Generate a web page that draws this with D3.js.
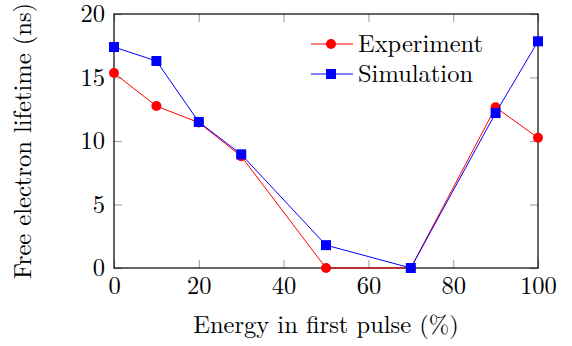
<!DOCTYPE html>
<html>
<head>
<meta charset="utf-8">
<script src="https://cdn.jsdelivr.net/npm/d3@7"></script>
</head>
<body style="margin:0; background:#fff">
<div id="chart"></div>
<script>
var svgWidth = 572;
var svgHeight = 346;

var margin = { top: 14, right: 34, bottom: 78, left: 114 };
var width = svgWidth - margin.left - margin.right;
var height = svgHeight - margin.top - margin.bottom;

// data
var energy = [0, 10, 20, 30, 50, 70, 90, 100];
var experiment = [15.35, 12.75, 11.45, 8.8, 0, 0, 12.65, 10.25];
var simulation = [17.4, 16.3, 11.5, 8.95, 1.8, 0, 12.2, 17.85];
var xTicks = [0, 20, 40, 60, 80, 100];
var yTicks = [0, 5, 10, 15, 20];
var seriesNames = ["Experiment", "Simulation"];

var fontFamily = "'Latin Modern Roman', 'Liberation Serif', serif";
var fontSize = 24.5;

var svg = d3.select("#chart")
    .append("svg")
    .attr("width", svgWidth)
    .attr("height", svgHeight);

var chartGroup = svg.append("g")
    .attr("transform", `translate(${margin.left}, ${margin.top})`);

var xScale = d3.scaleLinear().domain([0, 100]).range([0, width]);
var yScale = d3.scaleLinear().domain([0, 20]).range([height, 0]);

// ticks, inside on all four sides
var tickLen = 8;
var tickColor = "#a8a8a8";

chartGroup.append("g")
    .attr("transform", `translate(0, ${height})`)
    .call(d3.axisBottom(xScale).tickValues(xTicks).tickSizeInner(-tickLen).tickSizeOuter(0).tickPadding(9))
    .call(g => g.select(".domain").remove());

chartGroup.append("g")
    .call(d3.axisTop(xScale).tickValues(xTicks).tickSizeInner(-tickLen).tickSizeOuter(0).tickFormat(""))
    .call(g => g.select(".domain").remove());

chartGroup.append("g")
    .call(d3.axisLeft(yScale).tickValues(yTicks).tickSizeInner(-tickLen).tickSizeOuter(0).tickPadding(9))
    .call(g => g.select(".domain").remove());

chartGroup.append("g")
    .attr("transform", `translate(${width}, 0)`)
    .call(d3.axisRight(yScale).tickValues(yTicks).tickSizeInner(-tickLen).tickSizeOuter(0).tickFormat(""))
    .call(g => g.select(".domain").remove());

chartGroup.selectAll(".tick line")
    .attr("stroke", tickColor)
    .attr("stroke-width", 1.2);

chartGroup.selectAll(".tick text")
    .style("font-family", fontFamily)
    .style("font-size", fontSize + "px")
    .attr("fill", "#000");

// frame
chartGroup.append("rect")
    .attr("x", 0)
    .attr("y", 0)
    .attr("width", width)
    .attr("height", height)
    .attr("fill", "none")
    .attr("stroke", "#000")
    .attr("stroke-width", 1.2);

// lines and markers
var line = d3.line()
    .x(d => xScale(d[0]))
    .y(d => yScale(d[1]));

var expData = energy.map((e, i) => [e, experiment[i]]);
var simData = energy.map((e, i) => [e, simulation[i]]);

chartGroup.append("path")
    .datum(expData)
    .attr("d", line)
    .attr("fill", "none")
    .attr("stroke", "#ff0000")
    .attr("stroke-width", 1);

chartGroup.selectAll(".exp")
    .data(expData)
    .enter()
    .append("circle")
    .attr("cx", d => xScale(d[0]))
    .attr("cy", d => yScale(d[1]))
    .attr("r", 5)
    .attr("fill", "#ff0000");

var sq = 10;
chartGroup.append("path")
    .datum(simData)
    .attr("d", line)
    .attr("fill", "none")
    .attr("stroke", "#0000ff")
    .attr("stroke-width", 1);

chartGroup.selectAll(".sim")
    .data(simData)
    .enter()
    .append("rect")
    .attr("x", d => xScale(d[0]) - sq / 2)
    .attr("y", d => yScale(d[1]) - sq / 2)
    .attr("width", sq)
    .attr("height", sq)
    .attr("fill", "#0000ff");

// legend
var legend = svg.append("g");
var legendRows = [44, 74];

legend.append("line")
    .attr("x1", 311).attr("x2", 353)
    .attr("y1", legendRows[0]).attr("y2", legendRows[0])
    .attr("stroke", "#ff0000").attr("stroke-width", 1);
legend.append("circle")
    .attr("cx", 331).attr("cy", legendRows[0]).attr("r", 5)
    .attr("fill", "#ff0000");
legend.append("line")
    .attr("x1", 311).attr("x2", 353)
    .attr("y1", legendRows[1]).attr("y2", legendRows[1])
    .attr("stroke", "#0000ff").attr("stroke-width", 1);
legend.append("rect")
    .attr("x", 331 - sq / 2).attr("y", legendRows[1] - sq / 2)
    .attr("width", sq).attr("height", sq)
    .attr("fill", "#0000ff");

legend.selectAll(".legtext")
    .data(seriesNames)
    .enter()
    .append("text")
    .attr("x", 358)
    .attr("y", (d, i) => legendRows[i] + 8)
    .style("font-family", fontFamily)
    .style("font-size", fontSize + "px")
    .text(d => d);

// axis titles
svg.append("text")
    .attr("x", margin.left + width / 2)
    .attr("y", 333)
    .attr("text-anchor", "middle")
    .style("font-family", fontFamily)
    .style("font-size", fontSize + "px")
    .text("Energy in first pulse (%)");

svg.append("text")
    .attr("transform", `translate(31, ${margin.top + height / 2}) rotate(-90)`)
    .attr("text-anchor", "middle")
    .style("font-family", fontFamily)
    .style("font-size", fontSize + "px")
    .text("Free electron lifetime (ns)");
</script>
</body>
</html>
